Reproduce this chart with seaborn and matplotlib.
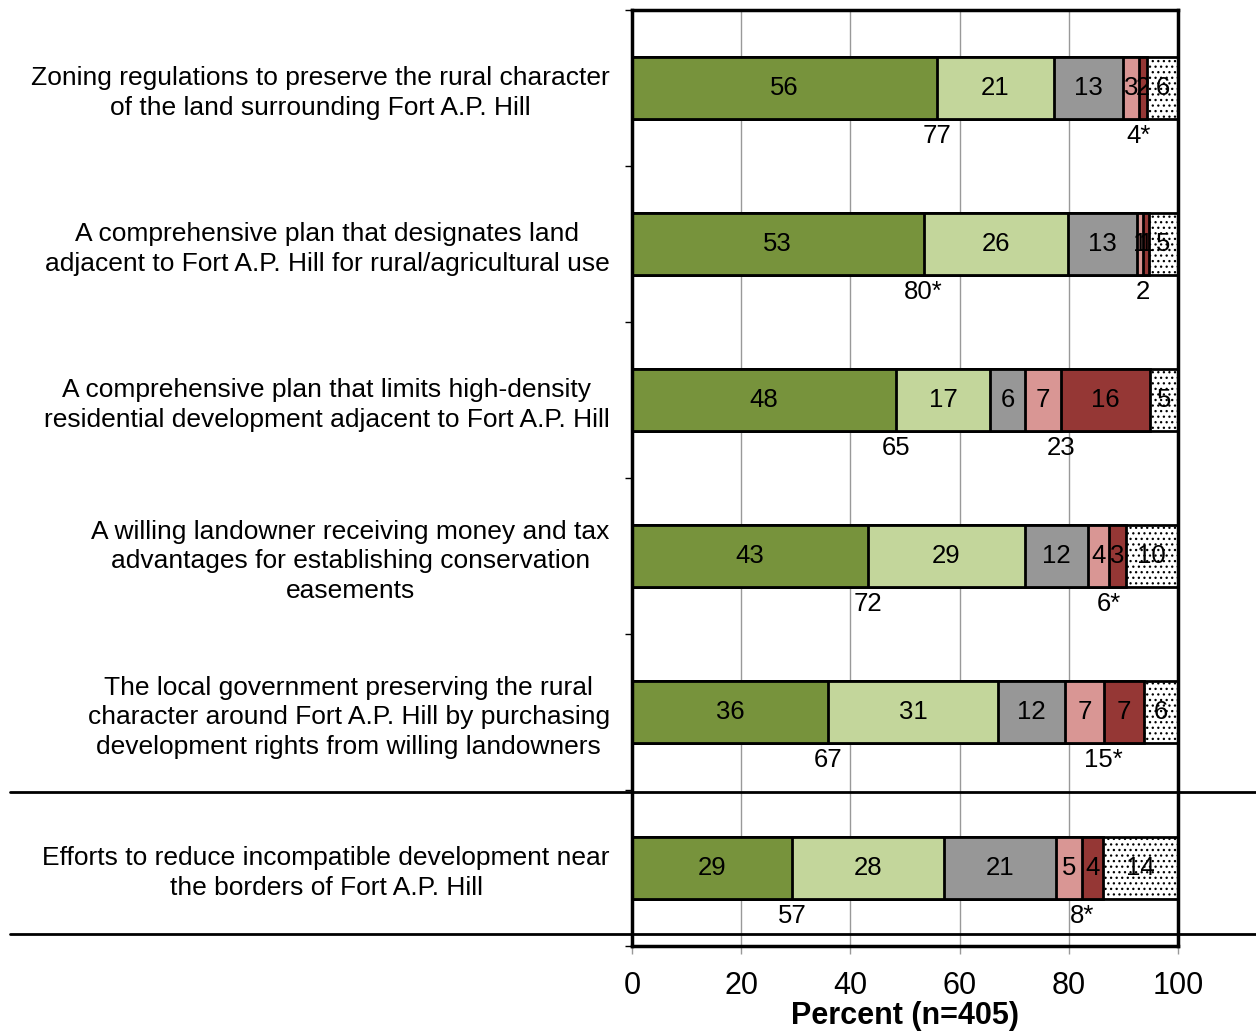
import numpy as np
import pandas as pd
import matplotlib
matplotlib.use("Agg")
import matplotlib.pyplot as plt
from matplotlib import font_manager
from matplotlib.lines import Line2D
import seaborn as sns

# survey items (top to bottom)
items = [
    "Zoning regulations to preserve the rural character\nof the land surrounding Fort A.P. Hill",
    "A comprehensive plan that designates land\nadjacent to Fort A.P. Hill for rural/agricultural use",
    "A comprehensive plan that limits high-density\nresidential development adjacent to Fort A.P. Hill",
    "A willing landowner receiving money and tax\nadvantages for establishing conservation\neasements",
    "The local government preserving the rural\ncharacter around Fort A.P. Hill by purchasing\ndevelopment rights from willing landowners",
    "Efforts to reduce incompatible development near\nthe borders of Fort A.P. Hill",
]

# percent per response
strongly_support = [55.9, 53.4, 48.4, 43.3, 35.9, 29.3]
moderately_support = [21.3, 26.4, 17.2, 28.6, 31.1, 27.8]
neither = [12.8, 12.7, 6.4, 11.7, 12.3, 20.6]
moderately_oppose = [2.8, 1.1, 6.6, 3.8, 7.1, 4.7]
strongly_oppose = [1.6, 1.0, 16.2, 3.0, 7.4, 3.9]
dont_know = [5.6, 5.4, 5.2, 9.6, 6.2, 13.7]

support_tot = ["77", "80*", "65", "72", "67", "57"]
oppose_tot = ["4*", "2", "23", "6*", "15*", "8*"]

colors = ["#77933C", "#C3D69B", "#979797", "#D99694", "#953735", "white"]

series = [strongly_support, moderately_support, neither,
          moderately_oppose, strongly_oppose, dont_know]
vals = np.array(series).T
cum = np.cumsum(vals, axis=1)

sns.set_style("white")
names = [f.name for f in font_manager.fontManager.ttflist]
base = "Liberation Sans" if "Liberation Sans" in names else "DejaVu Sans"
plt.rcParams["font.family"] = [base, "DejaVu Sans"]
plt.rcParams["text.color"] = "black"
plt.rcParams["axes.labelcolor"] = "black"
plt.rcParams["xtick.labelcolor"] = "black"
plt.rcParams["ytick.labelcolor"] = "black"
plt.rcParams["hatch.linewidth"] = 0.9

fig = plt.figure(figsize=(12.56, 10.32), dpi=100)
ax = fig.add_axes([632 / 1256, 1 - 946 / 1032, 546 / 1256, 936 / 1032])

# stacked bars: draw cumulative totals from the outside in
for k in range(5, -1, -1):
    df = pd.DataFrame({"item": items, "val": cum[:, k]})
    sns.barplot(data=df, x="val", y="item", orient="h", color=colors[k],
                saturation=1, edgecolor="black", linewidth=2, width=0.4,
                errorbar=None, ax=ax)
    if k == 5:
        for p in ax.containers[-1]:
            p.set_hatch("...")

# segment labels
for i in range(len(items)):
    left = 0
    for k in range(6):
        v = vals[i, k]
        ax.text(left + v / 2, i, "%d" % round(v), ha="center", va="center",
                fontsize=18.5)
        left += v
    ax.text(cum[i, 0], i + 0.31, support_tot[i], ha="center", va="center",
            fontsize=18.5)
    ax.text(cum[i, 3], i + 0.31, oppose_tot[i], ha="center", va="center",
            fontsize=18.5)

ax.set_xlim(0, 100)
ax.set_ylim(5.5, -0.5)
ax.set_xticks([0, 20, 40, 60, 80, 100])
ax.xaxis.grid(True, color="#999999", linewidth=1)
ax.set_axisbelow(True)
ax.set_yticks(np.arange(-0.5, 6, 1), minor=True)
ax.tick_params(axis="y", which="major", length=0, pad=16, labelsize=19)
ax.tick_params(axis="y", which="minor", length=5, width=1, color="black", left=True)
ax.tick_params(axis="x", length=6, width=1, color="#999999", pad=12, labelsize=22,
               bottom=True)
for lbl in ax.get_yticklabels():
    lbl.set_multialignment("center")
    lbl.set_linespacing(1.3)
ax.set_ylabel("")
ax.set_xlabel("Percent (n=405)", fontsize=22, fontweight="bold", labelpad=0)
for s in ax.spines.values():
    s.set_visible(True)
    s.set_color("black")
    s.set_linewidth(2.5)

# separator lines across the figure
for yy in [792, 934]:
    fig.add_artist(Line2D([10 / 1256, 1], [1 - yy / 1032, 1 - yy / 1032],
                          color="black", linewidth=2))

plt.savefig("out.png", dpi=100)
